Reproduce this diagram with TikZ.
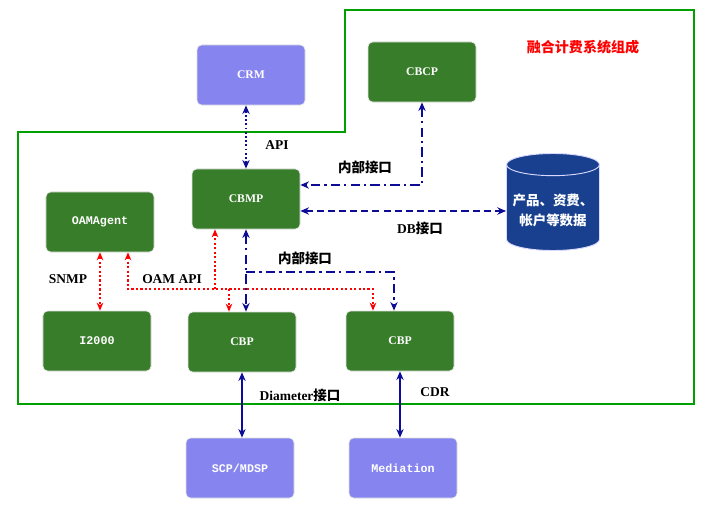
\documentclass[tikz,border=0pt]{standalone}
\usepackage{fontspec}
\setmainfont{Liberation Serif}
\setmonofont{Liberation Mono}
\newfontfamily\cjk{Noto Sans CJK SC}
\usetikzlibrary{arrows.meta,positioning,calc,shapes.geometric}
\definecolor{boxgreen}{RGB}{56,125,42}
\definecolor{boxpurple}{RGB}{134,132,238}
\definecolor{linkblue}{RGB}{12,12,150}
\definecolor{dbblue}{RGB}{24,64,142}
\definecolor{framegreen}{RGB}{0,160,0}
\tikzset{
  gbox/.style={rectangle, rounded corners=4pt, draw=black!12, line width=0.6pt,
    fill=boxgreen, text=white, minimum width=3.24cm, minimum height=1.8cm,
    font=\fontsize{10}{12}\selectfont\bfseries},
  pbox/.style={gbox, fill=boxpurple},
  mono/.style={font=\fontsize{10}{12}\selectfont\ttfamily\bfseries},
  lbl/.style={font=\fontsize{11.5}{13}\selectfont\bfseries, inner sep=1pt},
  solidlink/.style={{Stealth[length=2.6mm,width=2.2mm]}-{Stealth[length=2.6mm,width=2.2mm]},
    line width=1.4pt, draw=linkblue},
  apilink/.style={solidlink, line width=1.6pt, dotted},
  intlink/.style={solidlink, line width=1.8pt, dash pattern=on 8pt off 3.5pt on 2pt off 3.5pt},
  dblink/.style={solidlink, line width=1.8pt, dash pattern=on 6pt off 3.5pt},
  oamlink/.style={-{Stealth[length=2.4mm,width=2mm]}, line width=1.8pt, draw=red, dotted},
}
\begin{document}
\begin{tikzpicture}[x=0.03cm, y=-0.03cm]
  \useasboundingbox (0,0) rectangle (707,509);
  % system frame
  \draw[framegreen, line width=1.4pt] (18,132) -- (345,132) -- (345,10) -- (694,10)
    -- (694,404) -- (18,404) -- cycle;
  \node[lbl, text=red, font=\fontsize{12}{14}\selectfont\cjk\bfseries] (title) at (583,47) {融合计费系统组成};

  % boxes
  \node[pbox] (crm) at (251,75) {CRM};
  \node[gbox] (cbcp) at (422,72) {CBCP};
  \node[gbox] (cbmp) at (246,199) {CBMP};
  \node[gbox, mono] (oam) at (100,222) {OAMAgent};
  \node[gbox, mono] (i2k) at (97,341) {I2000};
  \node[gbox] (cbpa) at (242,342) {CBP};
  \node[gbox] (cbpb) at (400,341) {CBP};
  \node[pbox, mono] (scp) at (240,468) {SCP/MDSP};
  \node[pbox, mono] (med) at (403,468) {Mediation};
  \node[cylinder, shape border rotate=90, aspect=0.25, fill=dbblue, draw=blue!15!white,
        line width=0.8pt, minimum width=2.79cm, minimum height=2.91cm, text=white,
        align=center, font=\fontsize{11.5}{17}\selectfont\cjk\bfseries] (db) at (553,210)
        {产品、资费、\\帐户等数据};

  % blue links
  \draw[apilink] (crm.south -| cbmp.north) -- (cbmp.north);
  \coordinate (cbmpin) at ($(cbmp.east)+(0,-14)$);
  \draw[intlink] (cbcp.south) |- (cbmpin);
  \coordinate (cbmpdb) at ($(cbmp.east)+(0,12)$);
  \draw[dblink] (cbmpdb) -- (cbmpdb -| db.west);
  \draw[intlink] (cbmp.south) -- (cbmp.south |- cbpa.north);
  \coordinate (jn) at ($(cbmp.south)+(0,43)$);
  \draw[intlink, -{Stealth[length=2.6mm,width=2.2mm]}] (jn) -| ($(cbpb.north)+(-6,0)$);
  \draw[solidlink] (cbpa.south) -- (cbpa.south |- scp.north);
  \draw[solidlink] (cbpb.south) -- (cbpb.south |- med.north);

  % red OAM links
  \draw[oamlink, {Stealth[length=2.4mm,width=2mm]}-{Stealth[length=2.4mm,width=2mm]}]
    (oam.south) -- (oam.south |- i2k.north);
  \coordinate (oamc) at ($(oam.south)+(28,0)$);
  \coordinate (rj) at ($(oam.south)+(28,37)$);
  \draw[oamlink, {Stealth[length=2.4mm,width=2mm]}-{Stealth[length=2.4mm,width=2mm]}]
    (oamc) -- (rj) -| ($(cbpb.north)+(-27,0)$);
  \coordinate (cbpain) at ($(cbpa.north)+(-13,0)$);
  \draw[oamlink] (rj -| cbpain) -- (cbpain);
  \coordinate (cbmpoam) at ($(cbmp.south)+(-31,0)$);
  \draw[oamlink] (rj -| cbmpoam) -- (cbmpoam);

  % labels
  \node[lbl] (apil) at (277,145) {API};
  \node[lbl] (intla) at (365,167) {\cjk 内部接口};
  \node[lbl] (dbl) at (420,228) {DB{\cjk 接口}};
  \node[lbl] (intlb) at (305,258) {\cjk 内部接口};
  \node[lbl] (snmpl) at (68,279) {SNMP};
  \node[lbl] (oaml) at (172,279) {OAM API};
  \node[lbl] (diaml) at (300,395) {Diameter{\cjk 接口}};
  \node[lbl] (cdrl) at (435,392) {CDR};
\end{tikzpicture}
\end{document}
